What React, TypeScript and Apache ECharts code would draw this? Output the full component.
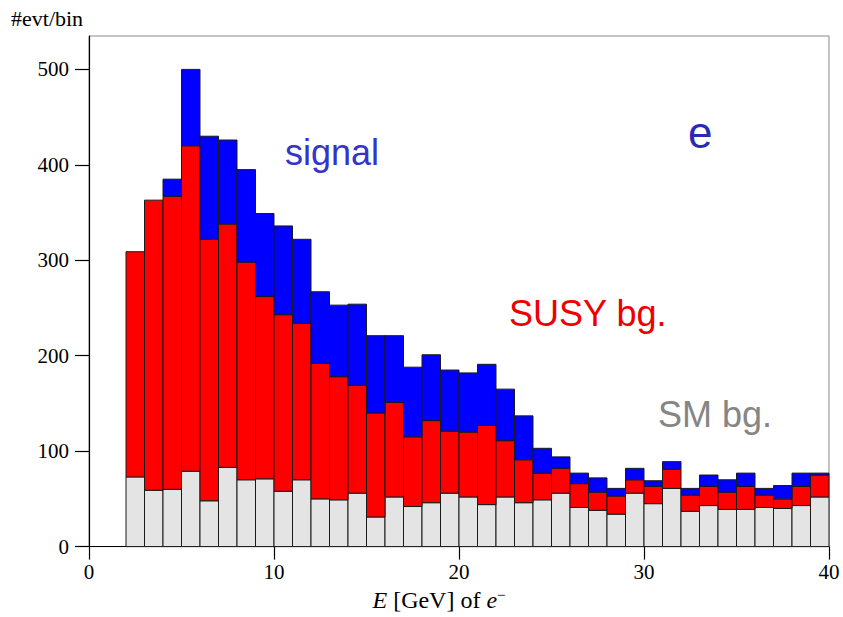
import React, { useEffect, useRef } from "react";
import * as echarts from "echarts";

// lower edges of the 1 GeV bins (2..39), upper edge = +1
const binLow = [2, 3, 4, 5, 6, 7, 8, 9, 10, 11, 12, 13, 14, 15, 16, 17, 18, 19, 20, 21, 22, 23, 24, 25, 26, 27, 28, 29, 30, 31, 32, 33, 34, 35, 36, 37, 38, 39];
const binWidth = 1;

// events per bin for each component (stacked: SM, SUSY, signal)
const smBg = [73, 59, 60, 79, 48, 83, 70, 71, 58, 70, 50, 49, 56, 31, 52, 42, 46, 56, 52, 44, 52, 46, 49, 56, 41, 38, 34, 56, 45, 61, 37, 43, 39, 39, 41, 40, 43, 52];
const susyBg = [236, 304, 307, 341, 274, 255, 228, 191, 185, 164, 142, 129, 113, 109, 99, 73, 86, 65, 68, 83, 59, 45, 28, 26, 25, 19, 19, 14, 18, 20, 17, 20, 18, 24, 13, 10, 20, 23];
const signal = [0, 0, 18, 80, 108, 88, 97, 87, 93, 88, 75, 75, 85, 81, 70, 73, 69, 64, 62, 64, 54, 46, 26, 12, 11, 15, 8, 12, 6, 8, 7, 12, 13, 14, 7, 14, 14, 2];

const xTicks = [0, 10, 20, 30, 40];
const yTicks = [0, 100, 200, 300, 400, 500];

const serif = "'Liberation Serif', 'DejaVu Serif', serif";
const sans = "'Liberation Sans', Arial, sans-serif";

function layerData(base: number[], vals: number[]) {
  return binLow.map((lo, i) => [lo, lo + binWidth, base[i], base[i] + vals[i]]);
}

function makeRender(color: string) {
  return (params: any, api: any) => {
    const x0 = api.value(0);
    const x1 = api.value(1);
    const y0 = api.value(2);
    const y1 = api.value(3);
    if (y1 <= y0) return null;
    const p0 = api.coord([x0, y0]);
    const p1 = api.coord([x1, y1]);
    return {
      type: "rect",
      shape: { x: p0[0], y: p1[1], width: p1[0] - p0[0], height: p0[1] - p1[1] },
      style: { fill: color, stroke: "#1a1a1a", lineWidth: 1 },
    };
  };
}

export default function App() {
  const ref = useRef<HTMLDivElement>(null);
  useEffect(() => {
    if (!ref.current) return;
    const chart = echarts.init(ref.current, null, { renderer: "svg" });
    const zeros = binLow.map(() => 0);
    const smTop = smBg.map((v) => v);
    const susyTop = smBg.map((v, i) => v + susyBg[i]);
    chart.setOption({
      animation: false,
      backgroundColor: "#ffffff",
      grid: {
        left: 89,
        right: 14,
        top: 36,
        bottom: 69,
        show: true,
        borderColor: "#8a8a8a",
        borderWidth: 1,
        backgroundColor: "transparent",
      },
      xAxis: {
        type: "value",
        min: 0,
        max: 40,
        interval: 10,
        splitLine: { show: false },
        axisLine: { show: true, onZero: false, lineStyle: { color: "#000", width: 1.2 } },
        axisTick: { show: true, length: 13, lineStyle: { color: "#000", width: 1.2 } },
        axisLabel: {
          color: "#000",
          fontFamily: serif,
          fontSize: 21,
          margin: 15,
          formatter: (v: number) => (xTicks.includes(v) ? String(v) : ""),
        },
        name: "{i|E} [GeV] of {i|e}{sup|−}",
        nameLocation: "middle",
        nameGap: 39,
        nameTextStyle: {
          color: "#000",
          fontFamily: serif,
          fontSize: 24,
          padding: [0, 40, 0, 0],
          rich: {
            i: { fontFamily: serif, fontStyle: "italic", fontSize: 24, color: "#000" },
            sup: { fontFamily: serif, fontSize: 15, color: "#000", verticalAlign: "top", padding: [0, 0, 10, 0] },
          },
        },
      },
      yAxis: {
        type: "value",
        min: 0,
        max: 535,
        interval: 100,
        splitLine: { show: false },
        axisLine: { show: true, onZero: false, lineStyle: { color: "#000", width: 1.2 } },
        axisTick: { show: true, length: 14, lineStyle: { color: "#000", width: 1.2 } },
        axisLabel: {
          color: "#000",
          fontFamily: serif,
          fontSize: 21,
          margin: 20,
          showMaxLabel: false,
          formatter: (v: number) => (yTicks.includes(v) ? String(v) : ""),
        },
      },
      graphic: [
        {
          type: "text",
          x: 11,
          y: 18,
          style: { text: "#evt/bin", font: `22px ${serif}`, fill: "#000", verticalAlign: "middle" },
        },
        {
          type: "text",
          x: 285,
          y: 152,
          style: { text: "signal", font: `36px ${sans}`, fill: "#3434cc", verticalAlign: "middle" },
        },
        {
          type: "text",
          x: 688,
          y: 132,
          style: { text: "e", font: `44px ${sans}`, fill: "#2a2ab4", verticalAlign: "middle" },
        },
        {
          type: "text",
          x: 509,
          y: 313,
          style: { text: "SUSY bg.", font: `36px ${sans}`, fill: "#ee0000", verticalAlign: "middle" },
        },
        {
          type: "text",
          x: 658,
          y: 414,
          style: { text: "SM bg.", font: `36px ${sans}`, fill: "#858585", verticalAlign: "middle" },
        },
      ],
      series: [
        {
          name: "SM bg.",
          type: "custom",
          renderItem: makeRender("#e4e4e4"),
          encode: { x: [0, 1], y: [2, 3] },
          data: layerData(zeros, smBg),
          z: 2,
        },
        {
          name: "SUSY bg.",
          type: "custom",
          renderItem: makeRender("#ff0000"),
          encode: { x: [0, 1], y: [2, 3] },
          data: layerData(smTop, susyBg),
          z: 2,
        },
        {
          name: "signal",
          type: "custom",
          renderItem: makeRender("#0000ff"),
          encode: { x: [0, 1], y: [2, 3] },
          data: layerData(susyTop, signal),
          z: 2,
        },
      ],
    });
    return () => chart.dispose();
  }, []);
  return <div ref={ref} style={{ width: 843, height: 617, position: "absolute", left: 0, top: 0 }} />;
}
